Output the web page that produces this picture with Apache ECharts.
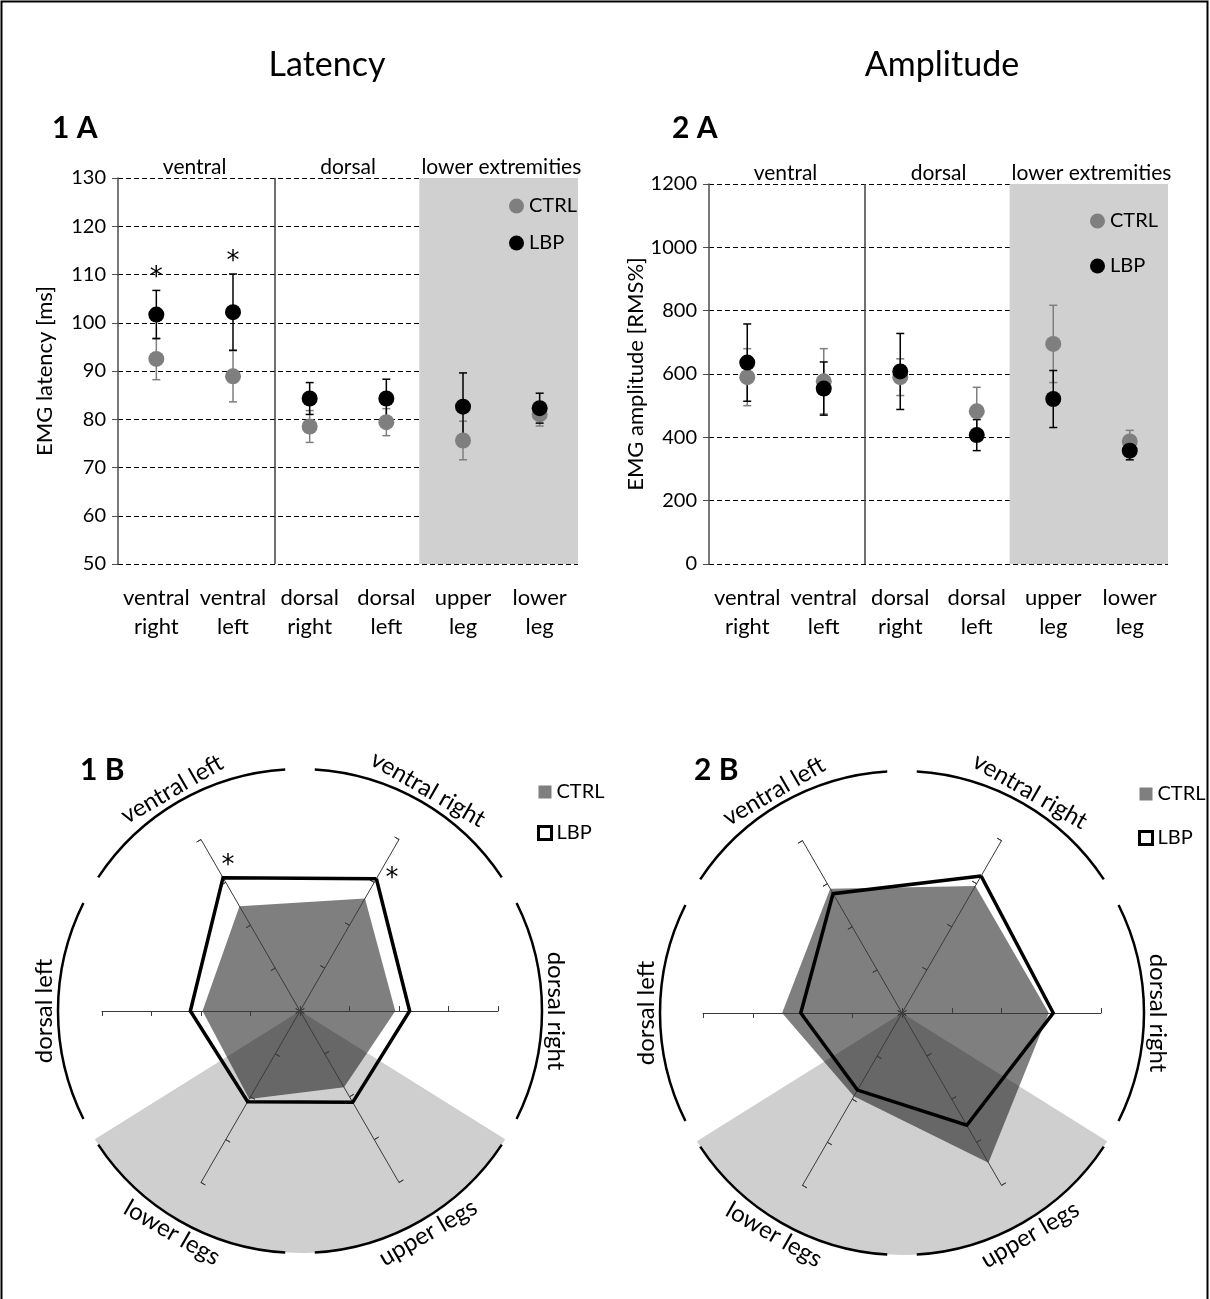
<!DOCTYPE html>
<html>
<head>
<meta charset="utf-8">
<script src="https://cdn.jsdelivr.net/npm/echarts@6/dist/echarts.min.js"></script>
<style>
  html, body { margin: 0; padding: 0; background: #fff; }
  #chart { width: 1210px; height: 1299px; }
</style>
</head>
<body>
<div id="chart"></div>
<script>
// ---- data ----
const muscles = ['ventral right', 'ventral left', 'dorsal right', 'dorsal left', 'upper leg', 'lower leg'];
const muscleLabels = ['ventral\nright', 'ventral\nleft', 'dorsal\nright', 'dorsal\nleft', 'upper\nleg', 'lower\nleg'];
const regions = ['ventral', 'dorsal', 'lower extremities'];

const latencyCtrl   = [92.5, 88.9, 78.5, 79.4, 75.6, 81.0];
const latencyCtrlSd = [4.3, 5.3, 3.3, 2.8, 4.0, 2.4];
const latencyLbp    = [101.7, 102.2, 84.3, 84.3, 82.6, 82.3];
const latencyLbpSd  = [5.0, 7.9, 3.3, 4.0, 7.0, 3.1];
const latencySig    = ['*', '*', '', '', '', ''];

const amplitudeCtrl   = [590, 577, 590, 482, 695, 387];
const amplitudeCtrlSd = [90, 103, 58, 76, 122, 35];
const amplitudeLbp    = [636, 554, 608, 407, 521, 358];
const amplitudeLbpSd  = [122, 84, 120, 49, 90, 29];
const amplitudeSig    = ['', '', '', '', '', ''];

const latencyTicks   = [50, 60, 70, 80, 90, 100, 110, 120, 130];
const amplitudeTicks = [0, 200, 400, 600, 800, 1000, 1200];

// radar spokes, counter-clockwise from the upper right
const radarAxes   = ['ventral right', 'ventral left', 'dorsal left', 'lower legs', 'upper legs', 'dorsal right'];
const radarSource = [0, 1, 3, 5, 4, 2];           // index into the muscle arrays
const radarLatencyTicks   = [40, 60, 80, 100, 120];
const radarAmplitudeTicks = [0, 200, 400, 600, 800];

// ---- styling ----
const FONT = 'Lato';
const MARK_FONT = '"DejaVu Sans"';
const CTRL_COLOR = '#7f7f7f';
const LBP_COLOR = '#000000';
const BAND = '#d0d0d0';

const chart = echarts.init(document.getElementById('chart'), null, { renderer: 'canvas' });

function errorSeries(name, means, sds, color, gi, sig) {
  return {
    type: 'custom', name, xAxisIndex: gi * 3, yAxisIndex: gi, z: 3, silent: true,
    data: means.map((m, i) => [i, m - sds[i], m + sds[i]]),
    encode: { x: 0, y: [1, 2] },
    renderItem(params, api) {
      const lo = api.coord([api.value(0), api.value(1)]);
      const hi = api.coord([api.value(0), api.value(2)]);
      const w = 4;
      const style = { stroke: color, lineWidth: 1.5 };
      const children = [
        { type: 'line', shape: { x1: lo[0], y1: lo[1], x2: hi[0], y2: hi[1] }, style },
        { type: 'line', shape: { x1: lo[0] - w, y1: lo[1], x2: lo[0] + w, y2: lo[1] }, style },
        { type: 'line', shape: { x1: hi[0] - w, y1: hi[1], x2: hi[0] + w, y2: hi[1] }, style }
      ];
      const mark = sig ? sig[params.dataIndex] : '';
      if (mark) {
        children.push({
          type: 'text', x: hi[0], y: hi[1] - 12,
          style: { text: mark, font: '26px ' + MARK_FONT, fill: '#000', textAlign: 'center', textVerticalAlign: 'middle' }
        });
      }
      return { type: 'group', children };
    }
  };
}

function meanSeries(name, means, color, gi, z) {
  return {
    type: 'scatter', name, xAxisIndex: gi * 3, yAxisIndex: gi, z,
    symbol: 'circle', symbolSize: 16, itemStyle: { color, opacity: 1 },
    data: means.map((m, i) => [i, m])
  };
}

function regionSeries(gi) {
  // shaded lower-extremity band and the ventral/dorsal divider
  return {
    type: 'scatter', xAxisIndex: gi * 3 + 2, yAxisIndex: gi, z: 0, silent: true, data: [],
    markArea: { silent: true, itemStyle: { color: BAND }, label: { show: false },
      data: [[{ xAxis: 3.93 }, { xAxis: 6 }]] },
    markLine: { silent: true, symbol: 'none', label: { show: false },
      lineStyle: { color: '#404040', width: 1.5, type: 'solid' },
      data: [{ xAxis: 2.04 }] }
  };
}

function gridAxes(gi) {
  return [
    { gridIndex: gi, type: 'category', data: muscleLabels, boundaryGap: true,
      axisLine: { show: false }, axisTick: { show: false },
      axisLabel: { fontFamily: FONT, fontSize: 22, color: '#000', lineHeight: 29, margin: 19, interval: 0 } },
    { gridIndex: gi, type: 'category', position: 'top', data: regions, boundaryGap: true,
      axisLine: { show: false }, axisTick: { show: false }, splitLine: { show: false },
      axisLabel: { fontFamily: FONT, fontSize: 21, color: '#000', margin: 0, interval: 0 } },
    { gridIndex: gi, type: 'value', min: 0, max: muscles.length, show: false }
  ];
}

function yAxis(gi, ticks, name) {
  return {
    gridIndex: gi, type: 'value', z: 1,
    min: ticks[0], max: ticks[ticks.length - 1], interval: ticks[1] - ticks[0],
    name, nameLocation: 'middle', nameGap: 62,
    nameTextStyle: { fontFamily: FONT, fontSize: 22, color: '#000' },
    axisLine: { show: true, lineStyle: { color: '#4d4d4d', width: 1.5 } },
    axisTick: { show: true, length: 6, lineStyle: { color: '#4d4d4d' } },
    axisLabel: { fontFamily: FONT, fontSize: 20, color: '#000', margin: 12, formatter: v => String(v) },
    splitLine: { show: true, lineStyle: { color: '#000', width: 1, type: [5, 3] } }
  };
}

// spokes with ticks on one side; a twin radar adds the ticks on the other side
function radarCfg(center, radius, ticks, inside) {
  return {
    center, radius, startAngle: 60, splitNumber: ticks.length - 1, shape: 'polygon', z: 4,
    indicator: radarAxes.map(n => ({ name: n, min: ticks[0], max: ticks[ticks.length - 1] })),
    axisName: { show: false },
    axisLine: { show: !inside, lineStyle: { color: '#3a3a3a', width: 1 } },
    axisTick: { show: true, inside: !!inside, length: 5, lineStyle: { color: '#3a3a3a', width: 1 } },
    axisLabel: { show: false },
    splitLine: { show: false }, splitArea: { show: false }
  };
}

function radarValues(arr) { return radarSource.map(i => arr[i]); }

function radarSeries(ri, ctrl, lbp) {
  return [
    { type: 'radar', radarIndex: ri, z: 2, symbol: 'none', silent: true,
      data: [{ name: 'CTRL', value: radarValues(ctrl),
        areaStyle: { color: CTRL_COLOR, opacity: 1 }, lineStyle: { width: 0, opacity: 0 } }] },
    { type: 'radar', radarIndex: ri, z: 5, symbol: 'none', silent: true,
      data: [{ name: 'LBP', value: radarValues(lbp),
        lineStyle: { color: LBP_COLOR, width: 3.5, join: 'miter' }, areaStyle: { opacity: 0 } }] }
  ];
}

// ring of labelled arcs and the shaded lower-extremity sector of a radar
function radarDecor(cx, cy, R, ticks, lbp, sig) {
  const ringR = 242, labelR = 256, half = 26.5;
  const els = [];
  const angles = radarAxes.map((_, i) => 60 + i * 60);
  const lo = angles[3] - 28, hi = angles[4] + 28;     // lower legs .. upper legs
  els.push({ type: 'sector', z: 3, silent: true,
    shape: { cx, cy, r0: 0, r: ringR, startAngle: -hi * Math.PI / 180, endAngle: -lo * Math.PI / 180, clockwise: true },
    style: { fill: 'rgba(0,0,0,0.19)' } });
  radarAxes.forEach((name, i) => {
    const a = angles[i];
    els.push({ type: 'arc', z: 6, silent: true,
      shape: { cx, cy, r: ringR, startAngle: -(a + half) * Math.PI / 180, endAngle: -(a - half) * Math.PI / 180, clockwise: true },
      style: { stroke: '#000', lineWidth: 2.5, fill: null } });
    const rad = a * Math.PI / 180;
    const bottom = Math.sin(rad) < -0.01;
    const rot = (bottom ? a + 90 : a - 90) * Math.PI / 180;
    els.push({ type: 'text', z: 6, silent: true,
      x: cx + labelR * Math.cos(rad), y: cy - labelR * Math.sin(rad), rotation: rot,
      style: { text: name, font: '24px ' + FONT, fill: '#000', textAlign: 'center', textVerticalAlign: 'middle' } });
  });
  const vals = radarValues(lbp), marks = radarValues(sig);
  const t0 = ticks[0], t1 = ticks[ticks.length - 1];
  vals.forEach((v, i) => {
    if (!marks[i]) return;
    const r = R * (v - t0) / (t1 - t0);
    const a = angles[i] * Math.PI / 180, b = (angles[i] - 48) * Math.PI / 180;
    const px = cx + r * Math.cos(a) + 16 * Math.cos(b);
    const py = cy - r * Math.sin(a) - 16 * Math.sin(b) + 4;
    els.push({ type: 'text', z: 6, silent: true, x: px, y: py,
      style: { text: marks[i], font: '26px ' + MARK_FONT, fill: '#000', textAlign: 'center', textVerticalAlign: 'middle' } });
  });
  return els;
}

function textEl(text, x, y, font, align) {
  return { type: 'text', x, y, silent: true,
    style: { text, font: font + ' ' + FONT, fill: '#000', textAlign: align || 'center', textVerticalAlign: 'middle' } };
}

function circleLegend(left, top, gap) {
  return { orient: 'vertical', left, top, itemGap: gap, itemWidth: 15, itemHeight: 15, itemTextGap: 5,
    selectedMode: false, textStyle: { fontFamily: FONT, fontSize: 20, color: '#000' },
    data: [{ name: 'CTRL', icon: 'circle' }, { name: 'LBP', icon: 'circle' }] };
}
function squareLegend(left, top, gap) {
  return { orient: 'vertical', left, top, itemGap: gap, itemWidth: 13, itemHeight: 13, itemTextGap: 6,
    selectedMode: false, textStyle: { fontFamily: FONT, fontSize: 20, color: '#000' },
    data: [
      { name: 'CTRL', icon: 'rect', itemStyle: { color: CTRL_COLOR, borderWidth: 0 } },
      { name: 'LBP', icon: 'rect', itemStyle: { color: '#fff', borderColor: '#000', borderWidth: 3 } }
    ] };
}

const R1 = { cx: 300, cy: 1011, r: 198 };
const R2 = { cx: 902, cy: 1013, r: 199 };

const option = {
  animation: false,
  backgroundColor: '#fff',
  textStyle: { fontFamily: FONT },
  grid: [
    { left: 118, top: 178, width: 460, height: 386 },
    { left: 709, top: 184, width: 459, height: 380 }
  ],
  xAxis: [...gridAxes(0), ...gridAxes(1)],
  yAxis: [yAxis(0, latencyTicks, 'EMG latency [ms]'), yAxis(1, amplitudeTicks, 'EMG amplitude [RMS%]')],
  radar: [
    radarCfg([R1.cx, R1.cy], R1.r, radarLatencyTicks, false),
    radarCfg([R2.cx, R2.cy], R2.r, radarAmplitudeTicks, false),
    radarCfg([R1.cx, R1.cy], R1.r, radarLatencyTicks, true),
    radarCfg([R2.cx, R2.cy], R2.r, radarAmplitudeTicks, true)
  ],
  legend: [
    circleLegend(504, 191, 17),
    circleLegend(1085, 206, 25),
    squareLegend(532, 777, 21),
    squareLegend(1133, 779, 24)
  ],
  series: [
    regionSeries(0),
    errorSeries('CTRL SD', latencyCtrl, latencyCtrlSd, CTRL_COLOR, 0, null),
    errorSeries('LBP SD', latencyLbp, latencyLbpSd, LBP_COLOR, 0, latencySig),
    meanSeries('CTRL', latencyCtrl, CTRL_COLOR, 0, 4),
    meanSeries('LBP', latencyLbp, LBP_COLOR, 0, 5),
    regionSeries(1),
    errorSeries('CTRL SD', amplitudeCtrl, amplitudeCtrlSd, CTRL_COLOR, 1, null),
    errorSeries('LBP SD', amplitudeLbp, amplitudeLbpSd, LBP_COLOR, 1, amplitudeSig),
    meanSeries('CTRL', amplitudeCtrl, CTRL_COLOR, 1, 4),
    meanSeries('LBP', amplitudeLbp, LBP_COLOR, 1, 5),
    ...radarSeries(0, latencyCtrl, latencyLbp),
    ...radarSeries(1, amplitudeCtrl, amplitudeLbp)
  ],
  graphic: {
    elements: [
      { type: 'rect', z: 10, silent: true, shape: { x: 1.5, y: 1.5, width: 1206, height: 1330 },
        style: { fill: null, stroke: '#000', lineWidth: 2 } },
      textEl('Latency', 327, 65, '34px'),
      textEl('Amplitude', 942, 65, '34px'),
      textEl('1 A', 52, 128, 'bold 30px', 'left'),
      textEl('2 A', 672, 128, 'bold 30px', 'left'),
      textEl('1 B', 80, 770, 'bold 30px', 'left'),
      textEl('2 B', 694, 770, 'bold 30px', 'left'),
      ...radarDecor(R1.cx, R1.cy, R1.r, radarLatencyTicks, latencyLbp, latencySig),
      ...radarDecor(R2.cx, R2.cy, R2.r, radarAmplitudeTicks, amplitudeLbp, amplitudeSig)
    ]
  }
};

chart.setOption(option);
</script>
</body>
</html>
